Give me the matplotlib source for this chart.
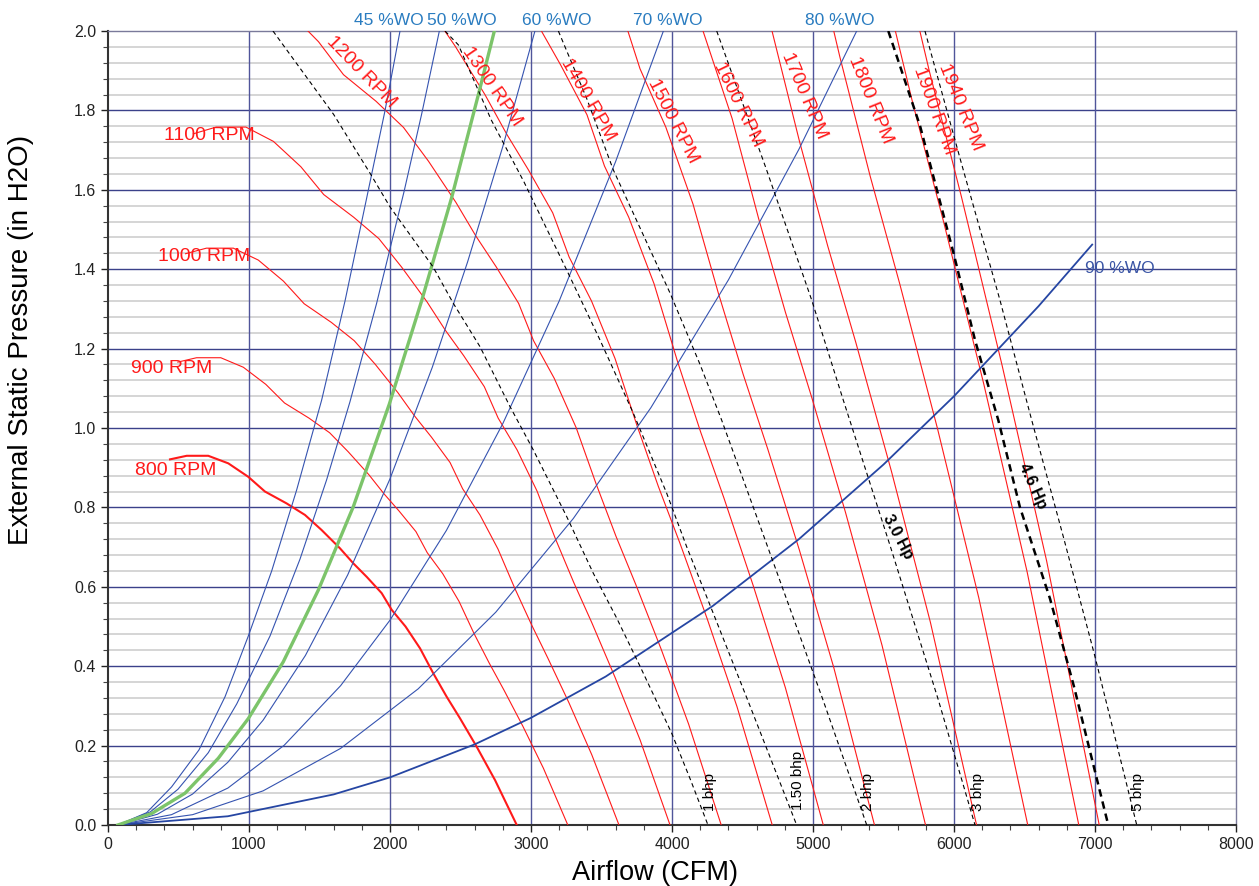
import matplotlib
matplotlib.use("Agg")
import matplotlib.pyplot as plt
from matplotlib.ticker import MultipleLocator, FormatStrFormatter

plt.rcParams['font.family'] = ['Liberation Sans', 'DejaVu Sans']

# fan curves, cfm / in. H2O
rpm800_q = [440, 558, 711, 853, 995, 1113, 1267, 1397, 1515, 1645, 1740, 1835, 1941, 2012, 2110, 2213, 2307, 2402, 2496, 2615, 2745, 2899]
rpm800_p = [0.921, 0.930, 0.930, 0.911, 0.877, 0.840, 0.810, 0.781, 0.743, 0.697, 0.659, 0.625, 0.584, 0.542, 0.500, 0.445, 0.382, 0.323, 0.269, 0.197, 0.113, 0.0]
rpm900_q = [495, 628, 800, 960, 1119, 1252, 1425, 1572, 1704, 1851, 1958, 2064, 2184, 2264, 2374, 2490, 2595, 2702, 2808, 2942, 3088, 3261]
rpm900_p = [1.166, 1.177, 1.177, 1.153, 1.110, 1.063, 1.025, 0.988, 0.940, 0.882, 0.834, 0.791, 0.739, 0.686, 0.633, 0.563, 0.483, 0.409, 0.340, 0.249, 0.143, 0.0]
rpm1000_q = [550, 698, 889, 1066, 1244, 1391, 1584, 1746, 1894, 2056, 2175, 2294, 2426, 2515, 2638, 2766, 2884, 3003, 3120, 3269, 3431, 3624]
rpm1000_p = [1.439, 1.453, 1.453, 1.423, 1.370, 1.313, 1.266, 1.220, 1.161, 1.089, 1.030, 0.977, 0.913, 0.847, 0.781, 0.695, 0.597, 0.505, 0.420, 0.308, 0.177, 0.0]
rpm1100_q = [605, 767, 978, 1173, 1368, 1530, 1742, 1921, 2083, 2262, 2393, 2523, 2669, 2767, 2901, 3043, 3172, 3303, 3432, 3596, 3774, 3986]
rpm1100_p = [1.741, 1.758, 1.758, 1.722, 1.658, 1.588, 1.531, 1.477, 1.405, 1.318, 1.246, 1.182, 1.104, 1.025, 0.945, 0.841, 0.722, 0.611, 0.509, 0.372, 0.214, 0.0]
rpm1200_q = [660, 1067, 1280, 1493, 1670, 1901, 2096, 2273, 2468, 2610, 2753, 2912, 3018, 3165, 3320, 3461, 3603, 3744, 3923, 4118, 4349]
rpm1200_p = [2.07, 2.09, 2.05, 1.973, 1.89, 1.823, 1.757, 1.672, 1.568, 1.483, 1.406, 1.314, 1.220, 1.125, 1.001, 0.860, 0.727, 0.605, 0.443, 0.254, 0.0]
rpm1300_q = [1617, 1809, 2059, 2270, 2462, 2673, 2828, 2982, 3154, 3270, 3429, 3596, 3749, 3903, 4056, 4249, 4461, 4711]
rpm1300_p = [2.316, 2.218, 2.139, 2.062, 1.962, 1.840, 1.740, 1.650, 1.542, 1.431, 1.320, 1.175, 1.009, 0.853, 0.710, 0.520, 0.298, 0.0]
rpm1400_q = [2217, 2651, 2879, 3045, 3211, 3397, 3521, 3693, 3873, 4037, 4204, 4368, 4576, 4804, 5073]
rpm1400_p = [2.481, 2.275, 2.135, 2.018, 1.914, 1.789, 1.660, 1.531, 1.363, 1.170, 0.989, 0.824, 0.603, 0.346, 0.0]
rpm1500_q = [3263, 3441, 3639, 3773, 3956, 4149, 4326, 4504, 4680, 4903, 5147, 5436]
rpm1500_p = [2.317, 2.197, 2.053, 1.905, 1.758, 1.564, 1.343, 1.136, 0.946, 0.693, 0.397, 0.0]
rpm1600_q = [3480, 3882, 4024, 4220, 4426, 4614, 4804, 4992, 5230, 5490, 5798]
rpm1600_p = [2.636, 2.336, 2.168, 2.0, 1.780, 1.528, 1.292, 1.076, 0.788, 0.452, 0.0]
rpm1700_q = [4125, 4276, 4484, 4703, 4902, 5104, 5304, 5557, 5833, 6160]
rpm1700_p = [2.637, 2.447, 2.258, 2.009, 1.725, 1.459, 1.215, 0.890, 0.510, 0.0]
rpm1800_q = [4367, 4527, 4748, 4979, 5191, 5405, 5616, 5884, 6176, 6523]
rpm1800_p = [2.957, 2.744, 2.531, 2.253, 1.934, 1.635, 1.362, 0.997, 0.572, 0.0]
rpm1900_q = [4779, 5011, 5256, 5479, 5705, 5928, 6211, 6519, 6885]
rpm1900_p = [3.057, 2.820, 2.510, 2.155, 1.822, 1.517, 1.111, 0.637, 0.0]
rpm1940_q = [5117, 5367, 5594, 5825, 6053, 6341, 6657, 7030]
rpm1940_p = [2.940, 2.617, 2.246, 1.899, 1.582, 1.158, 0.665, 0.0]

# system curves (% wide open)
wo45_q = [70, 274, 451, 645, 830, 993, 1161, 1338, 1515, 1681, 1835, 1965, 2071]
wo45_p = [0.0, 0.031, 0.096, 0.189, 0.323, 0.474, 0.640, 0.844, 1.07, 1.32, 1.58, 1.80, 2.0]
wo50_q = [70, 300, 496, 711, 913, 1149, 1362, 1551, 1716, 1905, 2100, 2224, 2350]
wo50_p = [0.0, 0.033, 0.090, 0.182, 0.305, 0.476, 0.670, 0.870, 1.066, 1.314, 1.596, 1.79, 2.0]
green_q = [70, 310, 546, 782, 995, 1243, 1492, 1740, 1995, 2224, 2437, 2627, 2740]
green_p = [0.0, 0.029, 0.08, 0.168, 0.268, 0.411, 0.592, 0.802, 1.06, 1.32, 1.58, 1.84, 2.0]
wo60_q = [70, 350, 600, 850, 1100, 1400, 1700, 2000, 2300, 2550, 2800, 3028]
wo60_p = [0.0, 0.027, 0.078, 0.158, 0.264, 0.427, 0.630, 0.872, 1.153, 1.418, 1.709, 2.0]
wo70_q = [70, 450, 850, 1250, 1650, 2000, 2400, 2800, 3200, 3600, 3939]
wo70_p = [0.0, 0.026, 0.093, 0.201, 0.351, 0.516, 0.742, 1.011, 1.320, 1.671, 2.0]
wo80_q = [70, 600, 1100, 1650, 2200, 2750, 3300, 3850, 4400, 4900, 5310]
wo80_p = [0.0, 0.026, 0.086, 0.193, 0.343, 0.536, 0.772, 1.051, 1.373, 1.702, 2.0]
wo90_q = [70, 850, 1600, 2000, 2600, 3000, 3530, 4290, 4900, 5500, 6000, 6600, 6980]
wo90_p = [0.0, 0.022, 0.077, 0.120, 0.203, 0.270, 0.374, 0.552, 0.720, 0.908, 1.080, 1.307, 1.462]

# brake horsepower lines
bhp1_q = [1170, 1600, 1858, 2000, 2305, 2449, 2638, 2851, 3016, 3253, 3442, 3608, 3773, 3998, 4130, 4255]
bhp1_p = [2.0, 1.79, 1.642, 1.557, 1.406, 1.314, 1.205, 1.054, 0.945, 0.777, 0.634, 0.521, 0.400, 0.231, 0.115, 0.0]
bhp15_q = [2390, 2485, 2718, 2950, 3253, 3489, 3726, 3962, 4104, 4293, 4553, 4884]
bhp15_p = [2.0, 1.965, 1.776, 1.62, 1.398, 1.222, 1.037, 0.836, 0.701, 0.533, 0.30, 0.0]
bhp2_q = [3194, 3395, 3584, 3986, 4199, 4352, 4720, 5071, 5381]
bhp2_p = [2.0, 1.83, 1.65, 1.34, 1.16, 1.02, 0.66, 0.315, 0.0]
bhp3_q = [4317, 4671, 4991, 5215, 5550, 5889, 6149]
bhp3_p = [2.0, 1.65, 1.322, 1.07, 0.70, 0.315, 0.0]
hp46_q = [5534, 5760, 5997, 6150, 6314, 6468, 6681, 6850, 7094]
hp46_p = [2.0, 1.76, 1.44, 1.22, 1.02, 0.80, 0.57, 0.35, 0.0]
bhp5_q = [5794, 6050, 6326, 6551, 6780, 7000, 7296]
bhp5_p = [2.0, 1.67, 1.322, 1.02, 0.72, 0.424, 0.0]

RED = '#ff1a1a'
BLUE = '#3553b0'

fig = plt.figure(figsize=(12.59, 8.86), dpi=100)
ax = fig.add_axes([108 / 1259, 61 / 886, 1128 / 1259, 794 / 886])

ax.set_xlim(0, 8000)
ax.set_ylim(0, 2.0)
ax.xaxis.set_major_locator(MultipleLocator(1000))
ax.xaxis.set_minor_locator(MultipleLocator(200))
ax.yaxis.set_major_locator(MultipleLocator(0.2))
ax.yaxis.set_minor_locator(MultipleLocator(0.04))
ax.yaxis.set_major_formatter(FormatStrFormatter('%.1f'))

# grid by hand so the dark lines sit on top of the grey ones
for y in ax.get_yticks(minor=True):
    if 0 < y < 2.0:
        ax.axhline(y, color='#d2d2d2', lw=1.3, zorder=0.5)
for y in ax.get_yticks():
    if 0 < y < 2.0:
        ax.axhline(y, color='#3b418a', lw=1.0, zorder=0.8)
for x in ax.get_xticks():
    if 0 < x < 8000:
        ax.axvline(x, color='#50559a', lw=1.0, zorder=0.8)

# red rpm curves
for q, p in [(rpm900_q, rpm900_p), (rpm1000_q, rpm1000_p), (rpm1100_q, rpm1100_p),
             (rpm1200_q, rpm1200_p), (rpm1300_q, rpm1300_p), (rpm1400_q, rpm1400_p),
             (rpm1500_q, rpm1500_p), (rpm1600_q, rpm1600_p), (rpm1700_q, rpm1700_p),
             (rpm1800_q, rpm1800_p), (rpm1900_q, rpm1900_p), (rpm1940_q, rpm1940_p)]:
    ax.plot(q, p, color=RED, lw=0.8, zorder=3)
ax.plot(rpm800_q, rpm800_p, color=RED, lw=1.5, zorder=3)

# system curves
for q, p in [(wo45_q, wo45_p), (wo50_q, wo50_p), (wo60_q, wo60_p), (wo70_q, wo70_p), (wo80_q, wo80_p)]:
    ax.plot(q, p, color=BLUE, lw=0.8, zorder=3)
ax.plot(wo90_q, wo90_p, color='#2646a3', lw=1.3, zorder=3)
ax.plot(green_q, green_p, color='#7cc46a', lw=2.4, zorder=4)

# bhp lines
for q, p in [(bhp1_q, bhp1_p), (bhp15_q, bhp15_p), (bhp2_q, bhp2_p), (bhp3_q, bhp3_p), (bhp5_q, bhp5_p)]:
    ax.plot(q, p, color='black', lw=0.8, ls=(0, (4, 3)), zorder=4)
ax.plot(hp46_q, hp46_p, color='black', lw=1.8, ls=(0, (3, 2)), zorder=4)

# labels
ax.text(482, 0.894, '800 RPM', color=RED, fontsize=14, ha='center', va='center', zorder=5)
ax.text(450, 1.151, '900 RPM', color=RED, fontsize=14, ha='center', va='center', zorder=5)
ax.text(681, 1.433, '1000 RPM', color=RED, fontsize=14, ha='center', va='center', zorder=5)
ax.text(716, 1.738, '1100 RPM', color=RED, fontsize=14, ha='center', va='center', zorder=5)

rot_labels = [('1200 RPM', 1794, 1.897, -46), ('1300 RPM', 2720, 1.860, -55.6),
              ('1400 RPM', 3401, 1.828, -60), ('1500 RPM', 4004, 1.774, -63),
              ('1600 RPM', 4470, 1.816, -64), ('1700 RPM', 4937, 1.836, -67),
              ('1800 RPM', 5404, 1.826, -68), ('1900 RPM', 5859, 1.799, -70),
              ('1940 RPM', 6043, 1.809, -68)]
for txt, x, y, r in rot_labels:
    ax.text(x, y, txt, color=RED, fontsize=14, rotation=r, rotation_mode='anchor',
            ha='center', va='center', zorder=5)

ax.text(5599, 0.726, '3.0 Hp', fontsize=11.5, fontweight='bold', rotation=-62,
        rotation_mode='anchor', ha='center', va='center', zorder=5)
ax.text(6557, 0.854, '4.6 Hp', fontsize=11.5, fontweight='bold', rotation=-66,
        rotation_mode='anchor', ha='center', va='center', zorder=5)

for txt, x, y in [('1 bhp', 4270, 0.082), ('1.50 bhp', 4896, 0.111), ('2 bhp', 5393, 0.084),
                  ('3 bhp', 6172, 0.084), ('5 bhp', 7307, 0.084)]:
    ax.text(x, y, txt, fontsize=11, rotation=90, ha='center', va='center', zorder=5)

top_tr = ax.get_xaxis_transform()
for txt, x in [('45 %WO', 1993), ('50 %WO', 2511), ('60 %WO', 3184), ('70 %WO', 3972), ('80 %WO', 5191)]:
    ax.text(x, 1.004, txt, color='#2a7cc0', fontsize=12.5, ha='center', va='bottom',
            transform=top_tr, clip_on=False)
ax.text(6929, 1.403, '90 %WO', color='#3a55a5', fontsize=12.5, ha='left', va='center', zorder=5)

ax.tick_params(which='major', direction='out', length=5, width=1, labelsize=11.5, colors='#222222')
ax.tick_params(which='minor', direction='out', length=3.5, width=0.8, colors='#444444')

for s in ['left', 'bottom']:
    ax.spines[s].set_color('#333333')
    ax.spines[s].set_linewidth(1.5)
for s in ['top', 'right']:
    ax.spines[s].set_color('#7a7a9a')
    ax.spines[s].set_linewidth(1.0)

ax.set_xlabel('Airflow (CFM)', fontsize=19.5)
ax.set_ylabel('External Static Pressure (in H2O)', fontsize=20)
ax.xaxis.set_label_coords(0.485, -0.044)
ax.yaxis.set_label_coords(-0.066, 0.611)

fig.savefig('out.png', dpi=100)
